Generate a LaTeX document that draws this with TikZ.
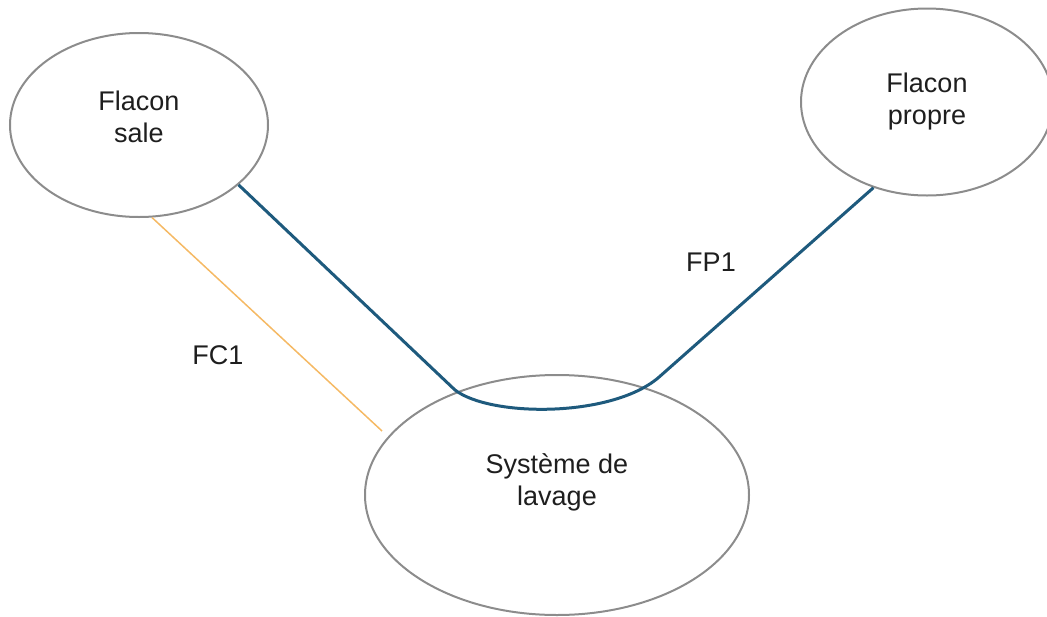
\documentclass[tikz,border=0pt]{standalone}
\usepackage{fontspec}
\setmainfont{Liberation Sans}
\usetikzlibrary{shapes.geometric,calc}
\definecolor{rimgray}{RGB}{140,140,140}
\definecolor{flowblue}{RGB}{30,90,125}
\definecolor{flowamber}{RGB}{245,185,100}
\definecolor{txtdark}{RGB}{30,30,30}
\tikzset{
  poste/.style={ellipse, draw=rimgray, line width=2pt, inner sep=0pt, align=center,
                text=txtdark, font=\fontsize{27}{32}\selectfont},
  fluxmain/.style={flowblue, line width=3pt, line join=round},
  fluxaux/.style={flowamber, line width=1.5pt},
  etiq/.style={text=txtdark, font=\fontsize{27}{32}\selectfont},
}

\begin{document}
\begin{tikzpicture}[x=1pt,y=-1pt]
  \useasboundingbox (0,0) rectangle (1047,616);
  % the three stations
  \node[poste, minimum width=258pt, minimum height=184pt, text depth=16pt] (sale) at (139,125) {Flacon\\sale};
  \node[poste, minimum width=252pt, minimum height=187pt] (propre) at (927,102) {Flacon\\propre};
  \node[poste, minimum width=384pt, minimum height=240pt, text depth=30pt] (lavage) at (557,495) {Syst\`eme de\\lavage};
  % flows
  \coordinate (b1) at (455,390);
  \coordinate (b2) at (490,417);
  \coordinate (b3) at (610,418);
  \coordinate (b4) at (658,378);
  \coordinate (a1) at (382,431);
  \draw[fluxmain] (sale.-31) -- (b1) .. controls (b2) and (b3) .. (b4) -- (propre.-122);
  \draw[fluxaux] (sale.-82) -- (a1);
  \node[etiq] (fc1) at (218,355) {FC1};
  \node[etiq] (fp1) at (711,262) {FP1};
\end{tikzpicture}
\end{document}
